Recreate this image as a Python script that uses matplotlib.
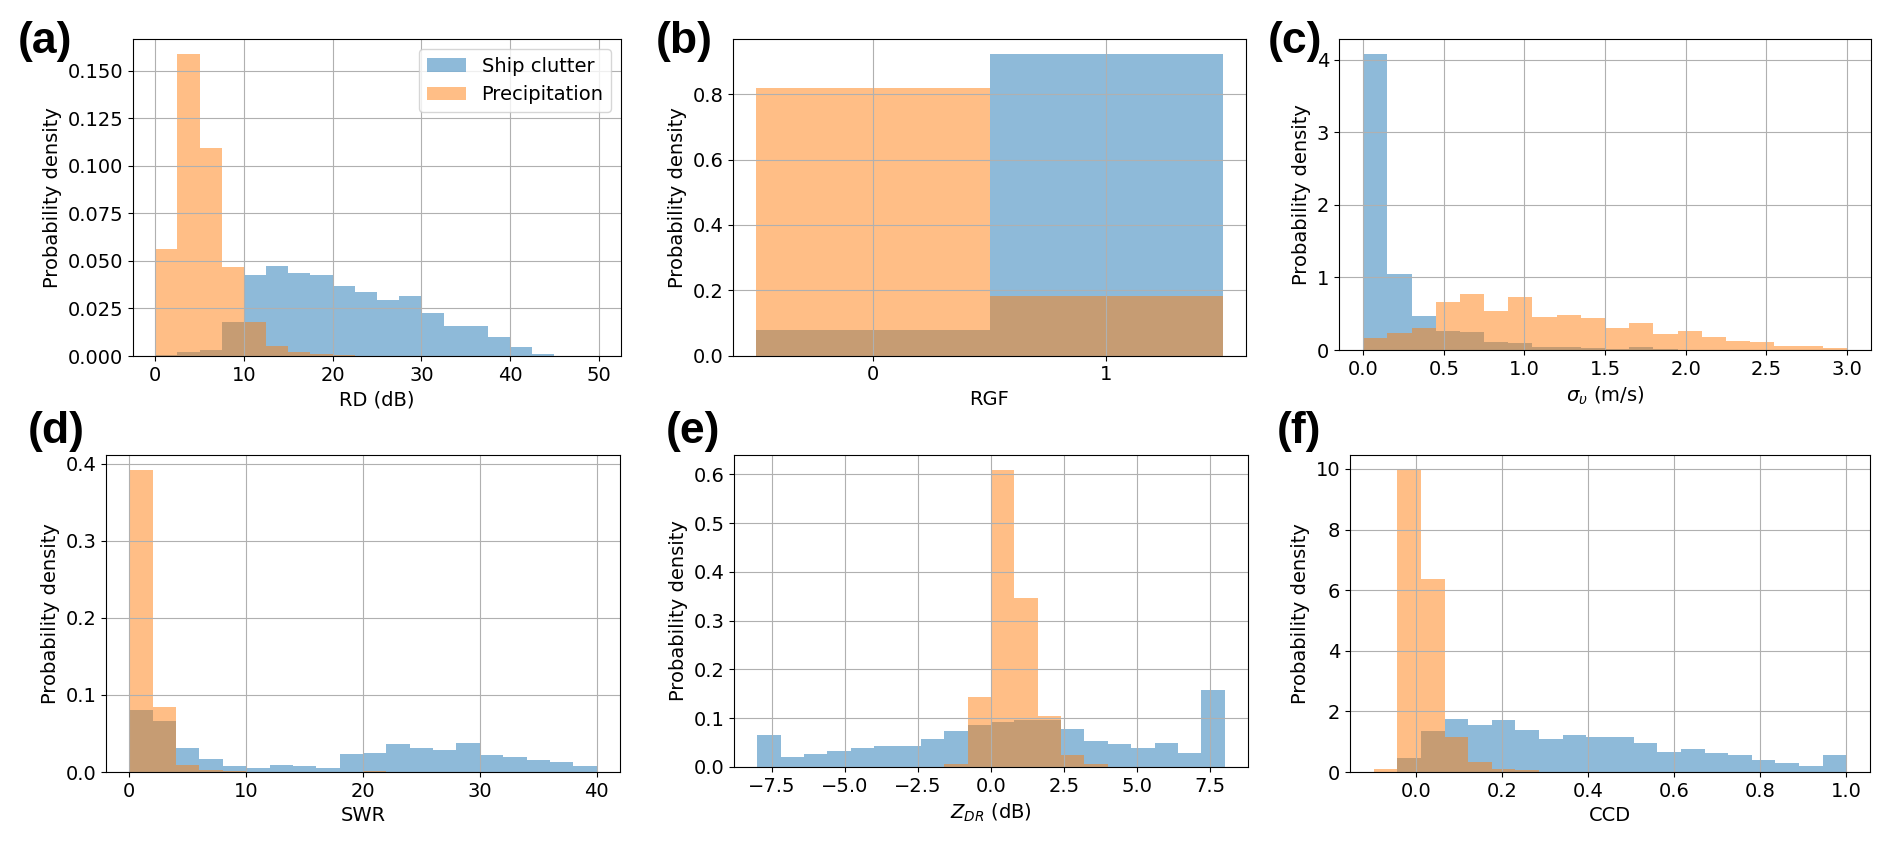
import numpy as np
import matplotlib
matplotlib.use("Agg")
import matplotlib.pyplot as plt

plt.rcParams['font.family'] = ['DejaVu Sans']
plt.rcParams['font.size'] = 14

# ---------------- data (probability densities per bin) ----------------
rd_edges = np.linspace(0, 50, 21)
ship_rd = [0.0005, 0.002, 0.003, 0.018, 0.0425, 0.0474, 0.0437, 0.0425, 0.0369, 0.0339,
           0.0295, 0.0315, 0.0227, 0.0157, 0.0157, 0.0100, 0.0045, 0.0013, 0.0, 0.0]
precip_rd = [0.056, 0.1587, 0.1094, 0.0467, 0.018, 0.005, 0.002, 0.001, 0.0005, 0.0,
             0.0, 0.0, 0.0, 0.0, 0.0, 0.0, 0.0, 0.0, 0.0, 0.0]

rgf_edges = [-0.5, 0.5, 1.5]
ship_rgf = [0.077, 0.923]
precip_rgf = [0.819, 0.181]

sv_edges = np.linspace(0, 3, 21)
ship_sv = [4.08, 1.053, 0.469, 0.267, 0.253, 0.115, 0.101, 0.037, 0.046, 0.023,
           0.014, 0.037, 0.010, 0.005, 0.003, 0.002, 0.002, 0.001, 0.001, 0.0]
precip_sv = [0.17, 0.239, 0.299, 0.667, 0.768, 0.538, 0.736, 0.45, 0.483, 0.437,
             0.299, 0.368, 0.216, 0.262, 0.175, 0.12, 0.115, 0.055, 0.055, 0.032]

swr_edges = np.linspace(0, 40, 21)
ship_swr = [0.0807, 0.0668, 0.0312, 0.0169, 0.0078, 0.0056, 0.0087, 0.0078, 0.0056, 0.0234,
            0.0252, 0.0364, 0.0312, 0.029, 0.0373, 0.0226, 0.0195, 0.016, 0.013, 0.0078]
precip_swr = [0.392, 0.0846, 0.0085, 0.003, 0.0012, 0.0005, 0.0003, 0.0002, 0.0002, 0.0002,
              0.0008, 0.0004, 0.0, 0.0, 0.0, 0.0, 0.0, 0.0, 0.0, 0.0]

zdr_edges = np.linspace(-8, 8, 21)
ship_zdr = [0.0665, 0.0206, 0.0267, 0.0322, 0.039, 0.0425, 0.0425, 0.0583, 0.074, 0.0871,
            0.0926, 0.096, 0.097, 0.0789, 0.0535, 0.048, 0.039, 0.0494, 0.0295, 0.158]
precip_zdr = [0.0, 0.0, 0.0, 0.0, 0.0, 0.0, 0.0, 0.0008, 0.0055, 0.144,
              0.609, 0.346, 0.104, 0.0254, 0.0055, 0.001, 0.0, 0.0, 0.0, 0.0]

ccd_edges = np.linspace(-0.098, 1.0, 21)
ship_ccd = [0.0, 0.474, 1.356, 1.764, 1.566, 1.731, 1.40, 1.10, 1.235, 1.158,
            1.158, 0.970, 0.662, 0.761, 0.617, 0.551, 0.386, 0.298, 0.198, 0.573]
precip_ccd = [0.11, 9.96, 6.36, 1.158, 0.331, 0.088, 0.05, 0.01, 0.0, 0.0,
              0.0, 0.0, 0.0, 0.0, 0.0, 0.0, 0.0, 0.0, 0.0, 0.0]

series_labels = ["Ship clutter", "Precipitation"]
xlabels = ["RD (dB)", "RGF", r"$\sigma_{\upsilon}$ (m/s)",
           "SWR", r"$Z_{DR}$ (dB)", "CCD"]
panel_tags = ["(a)", "(b)", "(c)", "(d)", "(e)", "(f)"]

panels = [
    (rd_edges, ship_rd, precip_rd),
    (rgf_edges, ship_rgf, precip_rgf),
    (sv_edges, ship_sv, precip_sv),
    (swr_edges, ship_swr, precip_swr),
    (zdr_edges, ship_zdr, precip_zdr),
    (ccd_edges, ship_ccd, precip_ccd),
]

# ---------------- layout (pixel boxes: left, right, top, bottom) ----------------
W, H = 1892, 843
boxes = [
    (133, 621, 39, 356),
    (733, 1246, 39, 355.5),
    (1339, 1871, 39, 350),
    (106, 620, 455, 772),
    (734, 1248, 455, 767),
    (1350, 1870, 455, 772),
]
tag_pos = [(18, 41), (656, 41), (1268, 41), (28, 431), (666, 431), (1277, 431)]

fig = plt.figure(figsize=(W / 100, H / 100), dpi=100)

for i, ((edges, ship, precip), (l, r, t, b)) in enumerate(zip(panels, boxes)):
    ax = fig.add_axes([l / W, 1 - b / H, (r - l) / W, (b - t) / H])
    edges = np.asarray(edges, dtype=float)
    ax.hist(edges[:-1], bins=edges, weights=ship, alpha=0.5, color='C0',
            label=series_labels[0])
    ax.hist(edges[:-1], bins=edges, weights=precip, alpha=0.5, color='C1',
            label=series_labels[1])
    ax.set_xlabel(xlabels[i])
    ax.set_ylabel("Probability density")
    ax.grid(True)
    if i == 1:
        ax.set_xticks([0, 1])
    if i == 0:
        ax.legend(loc='upper right')
    tx, ty = tag_pos[i]
    fig.text(tx / W, 1 - ty / H, panel_tags[i], fontsize=32, fontweight='bold',
             family=['Liberation Sans', 'DejaVu Sans'], ha='left', va='center')

fig.savefig("out.png", dpi=100)
